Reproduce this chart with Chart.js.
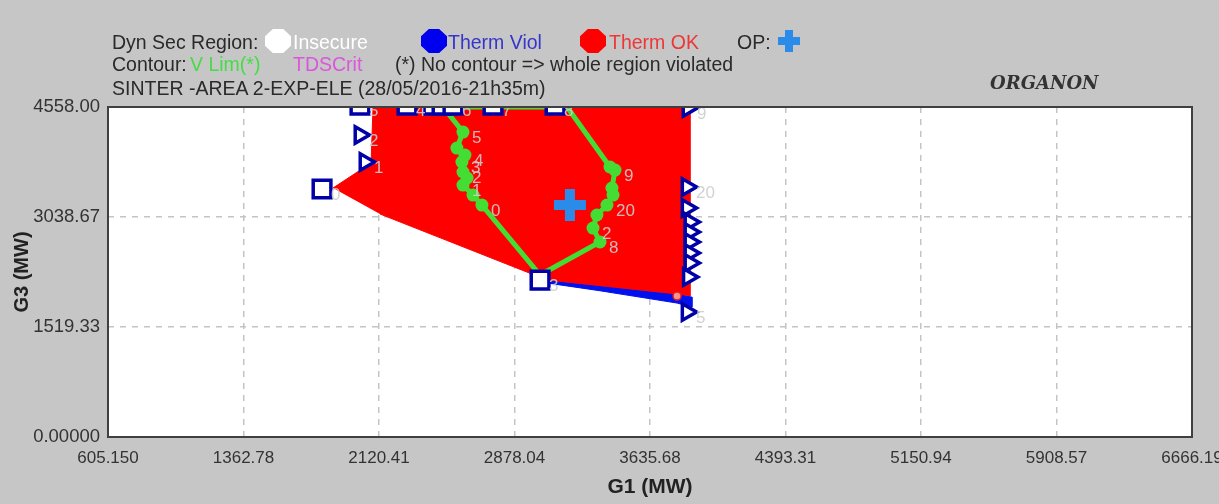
<!DOCTYPE html>
<html>
<head>
<meta charset="utf-8">
<script src="https://cdn.jsdelivr.net/npm/chart.js@4.4.1/dist/chart.umd.min.js"></script>
<style>
  body { margin: 0; background: #c6c6c6; font-family: "Liberation Sans", Arial, sans-serif; }
  #wrap { position: relative; width: 1219px; height: 504px; overflow: hidden; }
  canvas { position: absolute; left: 0; top: 0; }
  .t { position: absolute; font-size: 19.5px; line-height: 22px; color: #2a2a2a; white-space: nowrap; }
  .oct { position: absolute; width: 26px; height: 24px;
         clip-path: polygon(30% 0, 70% 0, 100% 30%, 100% 70%, 70% 100%, 30% 100%, 0 70%, 0 30%); }
  .bar { position: absolute; background: #2b8be8; }
</style>
</head>
<body>
<div id="wrap">
  <canvas id="chart" width="1219" height="504"></canvas>

  <!-- legend block, drawn as html text -->
  <div class="t" style="left:112px; top:31px">Dyn Sec Region:</div>
  <div class="oct" style="left:265px; top:29px; background:#fff"></div>
  <div class="t" style="left:293px; top:31px; color:#fff">Insecure</div>
  <div class="oct" style="left:421px; top:29px; background:#0000ee"></div>
  <div class="t" style="left:448px; top:31px; color:#3535cc">Therm Viol</div>
  <div class="oct" style="left:580px; top:29px; background:#ff0000"></div>
  <div class="t" style="left:609px; top:31px; color:#ee3636">Therm OK</div>
  <div class="t" style="left:737px; top:31px">OP:</div>
  <div class="bar" style="left:778px; top:37px; width:22px; height:8px"></div>
  <div class="bar" style="left:785px; top:30px; width:8px; height:22px"></div>

  <div class="t" style="left:112px; top:53px">Contour:</div>
  <div class="t" style="left:190px; top:53px; color:#44dd44">V Lim(*)</div>
  <div class="t" style="left:293px; top:53px; color:#dd55dd">TDSCrit</div>
  <div class="t" style="left:395px; top:53px">(*) No contour =&gt; whole region violated</div>

  <div class="t" style="left:112px; top:77px">SINTER -AREA 2-EXP-ELE (28/05/2016-21h35m)</div>
  <div class="t" style="left:990px; top:72px; font-family:'DejaVu Serif', serif; font-style:italic; font-weight:bold; font-size:18px; color:#333">ORGANON</div>
</div>

<script>
// axis ticks
const xTicks = [605.15, 1362.78, 2120.41, 2878.04, 3635.68, 4393.31, 5150.94, 5908.57, 6666.19];
const xTickLabels = ['605.150', '1362.78', '2120.41', '2878.04', '3635.68', '4393.31', '5150.94', '5908.57', '6666.19'];
const yTicks = [0, 1519.33, 3038.67, 4558];
const yTickLabels = ['0.00000', '1519.33', '3038.67', '4558.00'];

// Therm OK region (red)
const okX = [1863, 2076, 2087, 3859, 3859, 3787, 3076, 3004, 2126];
const okY = [3439, 3784, 4558, 4558, 1947, 1961, 2154, 2223, 3080];

// Therm Viol strip (blue)
const violX = [3065, 3787, 3870, 3870, 3787, 3356, 3065];
const violY = [2154, 1961, 1933, 1795, 1850, 2020, 2125];

// V Lim contour (green)
const vlimX = [2478, 2590, 2556, 2601, 2584, 2590, 2613, 2590, 2646, 2696, 3021, 3356, 3317, 3339, 3395, 3429, 3423, 3440, 3412, 3172, 2478];
const vlimY = [4558, 4212, 3991, 3894, 3798, 3660, 3577, 3480, 3342, 3204, 2237, 2693, 2886, 3066, 3204, 3342, 3439, 3687, 3729, 4558, 4558];
const vlimLabels = ['', '5', '', '4', '3', '2', '', '1', '', '0', '', '8', '2', '', '20', '', '', '9', '', '', ''];

// operating point
const opX = [3188];
const opY = [3204];

// square markers
const sqX = [1802, 2014, 2277, 2422, 2473, 2534, 2758, 3105, 3021];
const sqY = [3425, 4585, 4585, 4585, 4585, 4585, 4585, 4585, 2168];
const sqLabels = ['0', '5', '4', '', '', '6', '7', '8', '3'];

// triangle markers
const triX = [2014, 2042, 3848, 3843, 3843, 3859, 3859, 3859, 3859, 3859, 3850, 3843];
const triY = [4171, 3798, 4545, 3453, 3162, 2969, 2831, 2693, 2541, 2403, 2210, 1726];
const triLabels = ['2', '1', '9', '20', '', '', '', '', '', '', '', '5'];

// small red circle
const dotX = [3787];
const dotY = [1947];

const pts = (xs, ys) => xs.map((x, i) => ({ x: x, y: ys[i] }));

const frame = {
  id: 'frame',
  beforeDraw(chart) {
    const a = chart.chartArea, ctx = chart.ctx;
    ctx.save();
    ctx.fillStyle = '#ffffff';
    ctx.fillRect(a.left, a.top, a.right - a.left, a.bottom - a.top);
    ctx.restore();
  },
  afterDraw(chart) {
    const a = chart.chartArea, ctx = chart.ctx;
    ctx.save();
    ctx.strokeStyle = '#404040';
    ctx.lineWidth = 2;
    ctx.strokeRect(a.left, a.top, a.right - a.left, a.bottom - a.top);
    ctx.restore();
  }
};

const pointLabels = {
  id: 'pointLabels',
  afterDatasetsDraw(chart) {
    const a = chart.chartArea, ctx = chart.ctx;
    ctx.save();
    ctx.beginPath();
    ctx.rect(a.left, a.top, a.right - a.left, a.bottom - a.top);
    ctx.clip();
    ctx.font = '17px "Liberation Sans", Arial, sans-serif';
    ctx.fillStyle = 'rgba(205,205,205,0.9)';
    ctx.textBaseline = 'middle';
    chart.data.datasets.forEach((ds, i) => {
      if (!ds.pointLabels) return;
      chart.getDatasetMeta(i).data.forEach((p, j) => {
        const txt = ds.pointLabels[j];
        if (txt) ctx.fillText(txt, p.x + 9, p.y + 6);
      });
    });
    ctx.restore();
  }
};

const xTickFont = { family: '"Liberation Sans", Arial, sans-serif', size: 17 };
const yTickFont = { family: '"Liberation Sans", Arial, sans-serif', size: 18.5 };
const titleFont = { family: '"Liberation Sans", Arial, sans-serif', size: 21, weight: 'bold' };

new Chart(document.getElementById('chart'), {
  type: 'scatter',
  data: {
    datasets: [
      {
        label: 'OP', data: pts(opX, opY), pointStyle: 'cross', pointRadius: 16,
        borderColor: '#2b8be8', pointBorderWidth: 10, clip: 0
      },
      {
        label: 'Squares', data: pts(sqX, sqY), pointStyle: 'rect', pointRadius: 12.5,
        backgroundColor: '#ffffff', borderColor: '#0000a8', pointBorderWidth: 3.5,
        pointLabels: sqLabels, clip: 0
      },
      {
        label: 'Triangles', data: pts(triX, triY), pointStyle: 'triangle', pointRadius: 9.5,
        rotation: 90, backgroundColor: '#ffffff', borderColor: '#0000a8', pointBorderWidth: 3.5,
        pointLabels: triLabels, clip: 0
      },
      {
        label: 'dot', data: pts(dotX, dotY), pointRadius: 4,
        backgroundColor: '#ff9090', borderColor: '#dd2020', pointBorderWidth: 1.5, clip: 0
      },
      {
        label: 'V Lim', data: pts(vlimX, vlimY), showLine: true, tension: 0,
        borderColor: '#44dd33', borderWidth: 5, fill: false,
        pointRadius: vlimX.map((v, i) => ((i > 0 && i < 10) || (i > 10 && i < 19)) ? 6.5 : 0),
        pointBackgroundColor: '#44dd33', pointBorderWidth: 0,
        pointLabels: vlimLabels, clip: 0
      },
      {
        label: 'Therm Viol', data: pts(violX, violY), showLine: true, tension: 0,
        borderColor: '#0010ee', borderWidth: 1, backgroundColor: '#0010ee',
        fill: 'shape', pointRadius: 0, clip: 0
      },
      {
        label: 'Therm OK', data: pts(okX, okY), showLine: true, tension: 0,
        borderColor: '#ff0000', borderWidth: 1, backgroundColor: '#ff0000',
        fill: 'shape', pointRadius: 0, clip: 0
      }
    ]
  },
  options: {
    responsive: false,
    animation: false,
    events: [],
    layout: { padding: { top: 107, right: 27, left: 0, bottom: 0 } },
    plugins: { legend: { display: false }, tooltip: { enabled: false } },
    scales: {
      x: {
        type: 'linear', min: xTicks[0], max: xTicks[xTicks.length - 1], z: 1,
        afterBuildTicks: s => { s.ticks = xTicks.map(v => ({ value: v })); },
        afterFit: s => { s.height = 67; s.paddingLeft = 0; s.paddingRight = 0; },
        ticks: {
          autoSkip: false, maxRotation: 0, padding: 6, color: '#333', font: xTickFont,
          callback: (v, i) => xTickLabels[i]
        },
        grid: { color: '#c4c4c4', lineWidth: 1.5, tickLength: 5, tickColor: '#c4c4c4', tickBorderDash: [] },
        border: { display: false, dash: [6, 6] },
        title: { display: true, text: 'G1 (MW)', color: '#222', font: titleFont, padding: { top: 0, bottom: 4 } }
      },
      y: {
        type: 'linear', min: yTicks[0], max: yTicks[yTicks.length - 1], z: 1,
        afterBuildTicks: s => { s.ticks = yTicks.map(v => ({ value: v })); },
        afterFit: s => { s.width = 108; s.paddingTop = 0; s.paddingBottom = 0; },
        ticks: {
          autoSkip: false, padding: 4, color: '#333', font: yTickFont,
          callback: (v, i) => yTickLabels[i]
        },
        grid: { color: '#c4c4c4', lineWidth: 1.5, tickLength: 4, tickColor: '#c4c4c4', tickBorderDash: [] },
        border: { display: false, dash: [6, 6] },
        title: { display: true, text: 'G3 (MW)', color: '#222', font: { family: titleFont.family, size: 20, weight: 'bold' }, padding: { top: 10, bottom: 0 } }
      }
    }
  },
  plugins: [frame, pointLabels]
});
</script>
</body>
</html>
